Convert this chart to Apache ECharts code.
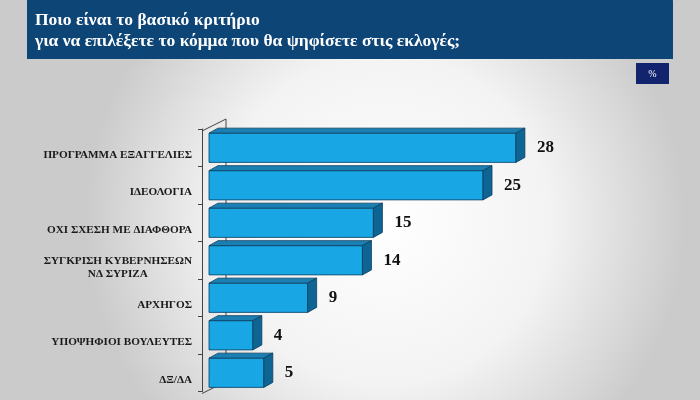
<!DOCTYPE html>
<html>
<head>
<meta charset="utf-8">
<script src="https://cdn.jsdelivr.net/npm/echarts@6/dist/echarts.min.js"></script>
<style>html,body{margin:0;padding:0;}#c{width:700px;height:400px;}</style>
</head>
<body>
<div id="c"></div>
<script>
const titleLines = ['Ποιο είναι το βασικό κριτήριο', 'για να επιλέξετε το κόμμα που θα ψηφίσετε στις εκλογές;'];
const unitLabel = '%';
const categories = [
  'ΠΡΟΓΡΑΜΜΑ ΕΞΑΓΓΕΛΙΕΣ',
  'ΙΔΕΟΛΟΓΙΑ',
  'ΟΧΙ ΣΧΕΣΗ ΜΕ ΔΙΑΦΘΟΡΑ',
  'ΣΥΓΚΡΙΣΗ ΚΥΒΕΡΝΗΣΕΩΝ\nΝΔ ΣΥΡΙΖΑ',
  'ΑΡΧΗΓΟΣ',
  'ΥΠΟΨΗΦΙΟΙ ΒΟΥΛΕΥΤΕΣ',
  'ΔΞ/ΔΑ'
];
const values = [28, 25, 15, 14, 9, 4, 5];

const SERIF = '"Liberation Serif", "DejaVu Serif", serif';
const gridLeft = 202, gridTop = 129, gridBottom = 8.5, gridRight = 52.6;
const depthX = 9, depthY = 5;

const chart = echarts.init(document.getElementById('c'));
const data = values.map((v, i) => [v, i]);

chart.setOption({
  animation: false,
  backgroundColor: {
    type: 'radial', x: 0.55, y: 0.55, r: 0.75,
    colorStops: [{offset: 0, color: '#ffffff'}, {offset: 0.55, color: '#f3f3f3'}, {offset: 1, color: '#cbcbcb'}]
  },
  title: {
    text: titleLines.join('\n'),
    left: 35, top: 10, padding: 0,
    textStyle: {color: '#ffffff', fontFamily: SERIF, fontSize: 17.5, fontWeight: 'bold', lineHeight: 21}
  },
  graphic: [
    {type: 'rect', z: -10, shape: {x: 27, y: -10, width: 646, height: 69, r: [0, 12, 0, 0]}, style: {fill: '#0e4577'}},
    {type: 'rect', z: -10, shape: {x: 636, y: 63, width: 33, height: 21}, style: {fill: '#12246e'}},
    {type: 'text', z: -9, x: 652.5, y: 74, style: {text: unitLabel, fill: '#ffffff', font: '10px ' + SERIF, align: 'center', verticalAlign: 'middle'}},
    {type: 'polyline', z: -5, shape: {points: [[gridLeft, gridTop + 2], [gridLeft + 24, gridTop - 10], [gridLeft + 24, 400 - gridBottom - 10], [gridLeft, 400 - gridBottom + 2]]}, style: {stroke: '#444', lineWidth: 1, fill: null}}
  ],
  grid: {left: gridLeft, top: gridTop, bottom: gridBottom, right: gridRight},
  xAxis: {type: 'value', min: -0.64, max: 40, show: false},
  yAxis: {
    type: 'category', inverse: true, data: categories,
    axisLine: {show: true, onZero: false, lineStyle: {color: '#444', width: 1}},
    axisTick: {show: true, length: 4, lineStyle: {color: '#444'}},
    axisLabel: {
      margin: 10, padding: [14, 0, 0, 0],
      formatter: (v) => v.split('\n').map(s => '{c|' + s + '}').join('\n'),
      rich: {c: {align: 'center', fontFamily: SERIF, fontSize: 11.2, fontWeight: 'bold', color: '#1a1a1a', lineHeight: 13}}
    }
  },
  series: [{
    type: 'custom',
    data: data,
    encode: {x: 0, y: 1},
    renderItem: function (params, api) {
      const v = api.value(0), c = api.value(1);
      const p0 = api.coord([0, c]);
      const p1 = api.coord([v, c]);
      const h = api.size([0, 1])[1] * 0.78;
      const x0 = p0[0], x1 = p1[0];
      const yT = p0[1] - h / 2, yB = p0[1] + h / 2;
      const edge = {stroke: '#0b3f5f', lineWidth: 0.8};
      return {
        type: 'group',
        children: [
          {type: 'rect', shape: {x: x0, y: yT, width: x1 - x0, height: h}, style: Object.assign({fill: '#18a6e4'}, edge)},
          {type: 'polygon', shape: {points: [[x0, yT], [x1, yT], [x1 + depthX, yT - depthY], [x0 + depthX, yT - depthY]]}, style: Object.assign({fill: '#1a7fb3'}, edge)},
          {type: 'polygon', shape: {points: [[x1, yT], [x1 + depthX, yT - depthY], [x1 + depthX, yB - depthY], [x1, yB]]}, style: Object.assign({fill: '#0e6594'}, edge)},
          {type: 'text', x: x1 + 21, y: p0[1], style: {text: String(v), fill: '#111', font: 'bold 17px ' + SERIF, align: 'left', verticalAlign: 'middle'}}
        ]
      };
    }
  }]
});
</script>
</body>
</html>
